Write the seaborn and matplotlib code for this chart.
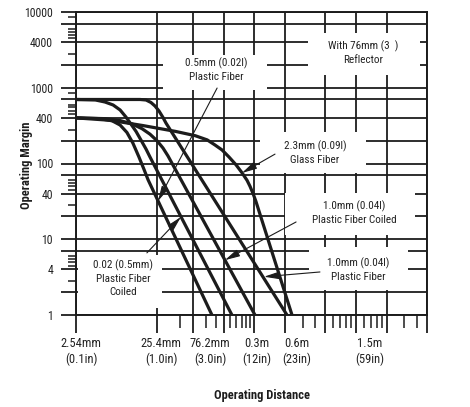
import numpy as np
import pandas as pd
import matplotlib
matplotlib.use('Agg')
import matplotlib.pyplot as plt
import matplotlib.transforms as mtransforms
from matplotlib import font_manager
from matplotlib.patches import Rectangle
from matplotlib.ticker import FixedLocator, FixedFormatter, NullFormatter
import seaborn as sns

# curves: operating distance (mm) vs operating margin
fiber05_mm = [2.54, 5.0, 7.1, 8.9, 10.8, 12.8, 15.2, 17.6, 19.7, 117]
fiber05_margin = [400, 391, 366, 322, 257, 186, 122, 83, 61, 1]

coiled05_mm = [2.54, 4.4, 5.8, 7.3, 8.9, 10.5, 12.1, 14.0, 16.1, 18.6, 20.8, 184]
coiled05_margin = [700, 690, 648, 592, 509, 411, 332, 265, 204, 155, 122, 1]

coiled10_mm = [2.54, 5.8, 8.9, 12.5, 16.6, 20.8, 25.4, 30.5, 35.5, 310]
coiled10_margin = [400, 391, 369, 333, 288, 244, 200, 160, 126, 1]

fiber10_mm = [2.54, 15.7, 18.6, 21.4, 24.0, 27.0, 30.5, 33.4, 640]
fiber10_margin = [700, 700, 689, 639, 574, 493, 405, 342, 1]

glass_mm = [2.54, 6.7, 17, 45, 80, 105, 125, 147, 172, 202, 231, 259, 277, 297, 317, 717]
glass_margin = [400, 372, 317, 265, 233, 205, 176, 151, 122, 96, 75.5, 60, 50, 40, 31.5, 1]

# axis ticks
y_grid = [1, 2, 4, 7, 10, 20, 40, 70, 100, 200, 400, 700, 1000, 2000, 4000, 7000, 10000]
y_text = ['1', '', '4', '', '10', '', '40', '', '100', '', '400', '', '1000', '', '4000', '', '10000']
y_minor = [2.8, 4.5, 5, 5.5, 6, 28, 45, 50, 55, 60, 280, 450, 500, 550, 600, 850,
           2800, 4500, 5000, 5500, 6000, 8500]

x_long_mm = [2.54, 25.4, 76.2, 152.4, 304.8, 609.6, 1524, 3048, 6096, 15240]
x_text = ['2.54mm\n(0.1in)', '25.4mm\n(1.0in)', '76.2mm\n(3.0in)', '', '0.3m\n(12in)',
          '0.6m\n(23in)', '1.5m\n(59in)', '', '', '']
x_short_mm = [50.8, 101.6, 127, 177.8, 203.2, 228.6, 254, 279.4, 914.4, 1219.2, 1828.8,
              2133.6, 2438.4, 2743.2, 3657.6, 4267.2, 4876.8, 5486.4, 9144, 12192]

# the printed distance axis is log, but squeezed below 3 in
knot_mm = [2.54, 25.4, 76.2, 15240]
knot_pos = [0, 81, 117, 351]


def fwd(x):
    lx = np.log10(np.clip(np.asarray(x, dtype=float), 1e-6, None))
    return np.interp(lx, np.log10(knot_mm), knot_pos)


def inv(p):
    return 10 ** np.interp(p, knot_pos, np.log10(knot_mm))


names = {f.name for f in font_manager.fontManager.ttflist}
FONT = 'Liberation Sans'
for cand in ['Roboto Condensed', 'Liberation Sans Narrow', 'Noto Sans Condensed',
             'DejaVu Sans Condensed', 'Open Sans Condensed']:
    if cand in names:
        FONT = cand
        break

sns.set_style('white')
plt.rcParams['font.family'] = [FONT, 'DejaVu Sans']
INK = '#1c1c1c'

curves = {
    '0.5mm Plastic Fiber': (fiber05_mm, fiber05_margin),
    '0.5mm Plastic Fiber Coiled': (coiled05_mm, coiled05_margin),
    '1.0mm Plastic Fiber Coiled': (coiled10_mm, coiled10_margin),
    '1.0mm Plastic Fiber': (fiber10_mm, fiber10_margin),
    '2.3mm Glass Fiber': (glass_mm, glass_margin),
}
df = pd.concat([pd.DataFrame({'curve': k, 'distance_mm': v[0], 'margin': v[1]})
                for k, v in curves.items()], ignore_index=True)

fig = plt.figure(figsize=(4.7, 4.07), dpi=100)
ax = fig.add_axes([76 / 470, 1 - 315 / 407, 351 / 470, 303 / 407])

sns.lineplot(data=df, x='distance_mm', y='margin', hue='curve',
             palette={k: INK for k in curves}, estimator=None, sort=False,
             legend=False, lw=2.3, ax=ax, zorder=3)

ax.set_xscale('function', functions=(fwd, inv))
ax.set_yscale('log')
ax.set_xlim(2.54, 15240)
ax.set_ylim(1, 10000)

ax.yaxis.set_major_locator(FixedLocator(y_grid))
ax.yaxis.set_major_formatter(FixedFormatter(y_text))
ax.yaxis.set_minor_locator(FixedLocator(y_minor))
ax.yaxis.set_minor_formatter(NullFormatter())
ax.xaxis.set_major_locator(FixedLocator(x_long_mm))
ax.xaxis.set_major_formatter(FixedFormatter(x_text))
ax.xaxis.set_minor_locator(FixedLocator(x_short_mm))
ax.xaxis.set_minor_formatter(NullFormatter())

ax.tick_params(which='both', bottom=True, left=True, top=False, right=False,
               direction='out')
ax.tick_params(axis='y', which='major', length=11, width=1.3, pad=5.5,
               labelsize=8.5, color=INK, labelcolor='#222222')
ax.tick_params(axis='y', which='minor', length=6, width=1.1, color=INK)
ax.tick_params(axis='x', which='major', length=13, width=1.3, pad=3,
               labelsize=9, color=INK, labelcolor='#222222')
ax.tick_params(axis='x', which='minor', length=9, width=1.1, color=INK)

ax.set_axisbelow(True)
ax.grid(True, which='major', color=INK, lw=1.3)
for s in ax.spines.values():
    s.set_color(INK)
    s.set_linewidth(1.4)

# printed labels sit a little right of their ticks
x_label_shift_px = [5, 4, 17, 0, 3, 12, 44, 0, 0, 0]
for lab, dx in zip(ax.get_xticklabels(), x_label_shift_px):
    lab.set_transform(lab.get_transform() +
                      mtransforms.ScaledTranslation(dx / 100, 0, fig.dpi_scale_trans))

ax.set_xlabel('Operating Distance', fontweight='bold', fontsize=9, color=INK)
ax.xaxis.set_label_coords(0.530, -0.244)
ax.set_ylabel('Operating Margin', fontweight='bold', fontsize=9, color=INK)
ax.yaxis.set_label_coords(-0.123, 0.495)

# white panels behind the callouts (axes fraction: x, y, w, h)
panels = [(0.248, 0.743, 0.296, 0.116), (0.661, 0.792, 0.319, 0.139),
          (0.524, 0.469, 0.302, 0.135), (0.595, 0.264, 0.370, 0.139),
          (0.664, 0.083, 0.282, 0.142), (0.006, 0.023, 0.239, 0.175)]
for x0, y0, w, h in panels:
    ax.add_patch(Rectangle((x0, y0), w, h, transform=ax.transAxes,
                           fc='white', ec='none', zorder=1.5))

notes = [('0.5mm (0.02l)\nPlastic Fiber', 0.399, 0.809),
         ('With 76mm (3  )\nReflector', 0.818, 0.865),
         ('2.3mm (0.09l)\nGlass Fiber', 0.681, 0.535),
         ('1.0mm (0.04l)\nPlastic Fiber Coiled', 0.792, 0.337),
         ('1.0mm (0.04l)\nPlastic Fiber', 0.803, 0.149),
         ('0.02 (0.5mm)\nPlastic Fiber\nCoiled', 0.134, 0.122)]
for txt, fx, fy in notes:
    ax.text(fx, fy, txt, transform=ax.transAxes, ha='center', va='center',
            fontsize=8, linespacing=1.4, color='#222222', zorder=5)

# arrows: tail in axes fraction, tip on the curve (mm, margin)
arrows = [((0.402, 0.749), (26.2, 32)),
          ((0.202, 0.205), (52.8, 19.7)),
          ((0.567, 0.531), (231, 75)),
          ((0.627, 0.307), (157, 5.3)),
          ((0.695, 0.142), (380, 3.2))]
for tail, tip in arrows:
    ax.annotate('', xy=tip, xycoords='data', xytext=tail, textcoords='axes fraction',
                arrowprops=dict(arrowstyle='-|>,head_length=0.9,head_width=0.22',
                                color=INK, lw=0.8, shrinkA=0, shrinkB=0,
                                mutation_scale=10), zorder=4)

fig.savefig('out.png', dpi=100)
